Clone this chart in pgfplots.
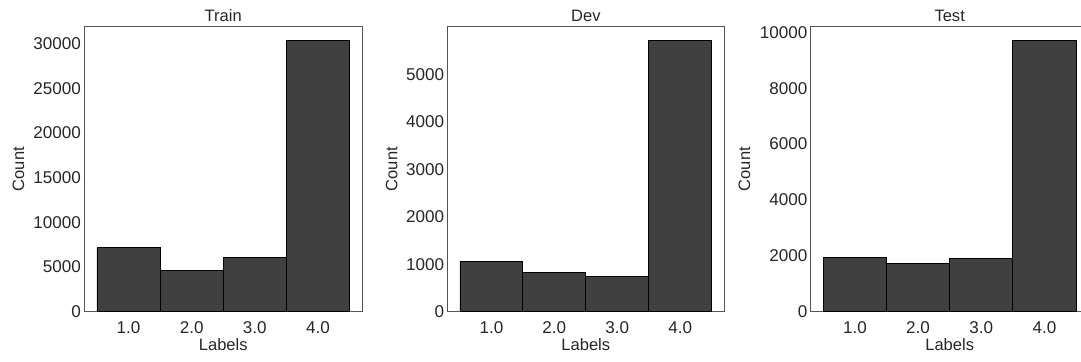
\documentclass[border=0pt]{standalone}
\usepackage{pgfplots}
\pgfplotsset{compat=1.18}
\usepackage{fontspec}
\setmainfont{Liberation Sans}
\definecolor{txt}{HTML}{262626}
\definecolor{barc}{HTML}{404040}
\definecolor{spine}{HTML}{555555}
\newcommand{\fs}{\fontsize{12.4}{14}\selectfont}
\newcommand{\ft}{\fontsize{12.8}{14}\selectfont}
\pgfplotsset{
  hist/.style={
    scale only axis, width=208.5pt, height=213.75pt,
    anchor=south west,
    xmin=0.3, xmax=4.7, ymin=0,
    xtick={1,2,3,4}, xticklabels={1.0,2.0,3.0,4.0},
    major tick length=0pt,
    axis line style={spine, line width=0.8pt},
    tick label style={font=\ft, text=txt},
    /pgf/number format/assume math mode=true,
    /pgf/number format/1000 sep={},
    scaled y ticks=false,
    xticklabel style={anchor=base, yshift=-16.4pt},
    yticklabel style={anchor=east, inner xsep=0pt, xshift=-2.3pt},
    every axis title shift=0pt,
    title style={font=\fs, text=txt, at={(axis description cs:0.5,1)}, anchor=base, yshift=3.6pt},
    xlabel=Labels, ylabel=Count,
    xlabel style={font=\fs, text=txt, at={(axis description cs:0.5,0)}, anchor=base, yshift=-29.2pt},
    ybar, bar width=1, bar shift=0,
    clip=false,
  },
  histbar/.style={fill=barc, draw=black, line width=0.6pt},
}
\begin{document}
\begin{tikzpicture}
\useasboundingbox (0,0) rectangle (810.75pt,270.75pt);
\clip (0,0) rectangle (810.75pt,270.75pt);
\begin{axis}[hist, at={(63.2pt,37pt)}, title=Train, ymax=31890,
  ytick={0,5000,10000,15000,20000,25000,30000},
  ylabel style={font=\fs, text=txt, at={(axis description cs:-0.216,0.5)}, anchor=base}]
\addplot[histbar] coordinates {(1,7180) (2,4600) (3,6025) (4,30370)};
\end{axis}
\begin{axis}[hist, at={(335.5pt,37pt)}, title=Dev, ymax=6005, width=207.75pt,
  ytick={0,1000,2000,3000,4000,5000},
  ylabel style={font=\fs, text=txt, at={(axis description cs:-0.1805,0.5)}, anchor=base}]
\addplot[histbar] coordinates {(1,1065) (2,818) (3,740) (4,5719)};
\end{axis}
\begin{axis}[hist, at={(608pt,37pt)}, title=Test, ymax=10206,
  ytick={0,2000,4000,6000,8000,10000},
  ylabel style={font=\fs, text=txt, at={(axis description cs:-0.218,0.5)}, anchor=base}]
\addplot[histbar] coordinates {(1,1953) (2,1713) (3,1892) (4,9720)};
\end{axis}
\end{tikzpicture}
\end{document}
